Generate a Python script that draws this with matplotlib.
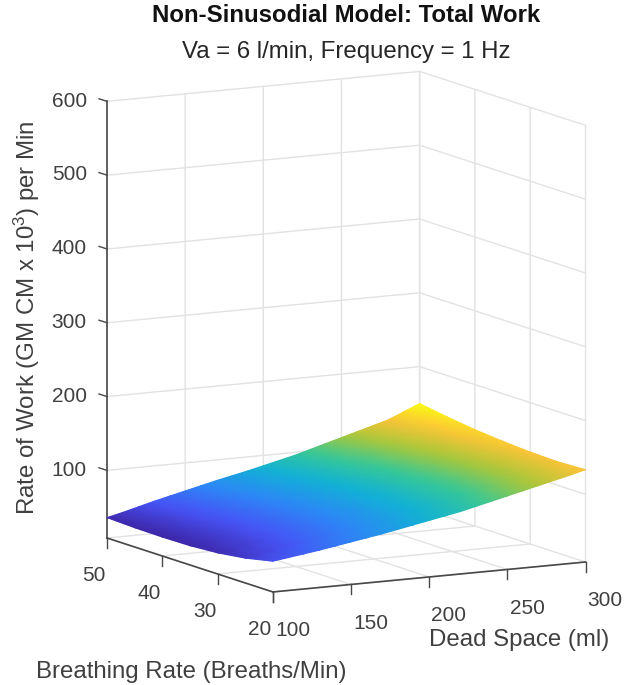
import numpy as np
import matplotlib
matplotlib.use("Agg")
import matplotlib.pyplot as plt
from matplotlib.colors import LinearSegmentedColormap, Normalize
from matplotlib.collections import QuadMesh
from matplotlib.transforms import Affine2D, IdentityTransform
from mpl_toolkits.mplot3d import proj3d

dead_space = [100,110,120,130,140,150,160,170,180,190,200,210,220,230,240,250,260,270,280,290,300]
breathing_rate = [20,25,30,35,40,45,50]
work_br20 = [50,53,56,59,62.5,66,69.5,73,77,81,85,89,93,98,103,108,113,118,123,128,133.4]
work_br25 = [42,45.4,48.9,52.4,56.3,60,63.9,67.7,71.9,76.1,80.3,84.5,88.7,94,99.2,104.4,109.7,114.9,120.2,125.9,132]
work_br30 = [37,40.8,44.8,48.8,52.9,57,61.1,65.3,69.5,73.8,78.2,82.7,87.1,92.5,98,103.5,108.9,114.4,119.8,126.3,133]
work_br35 = [34.5,38.6,43,47.3,51.8,56.1,60.5,64.9,69.3,73.6,78.2,82.8,87.4,93,98.6,104.2,109.8,115.5,121.1,128.2,135.5]
work_br40 = [34,38.4,43.1,47.8,52.3,56.9,61.5,66,70.5,74.9,79.6,84.3,89,94.8,100.4,106.2,112,117.7,123.4,131.2,139]
work_br45 = [34.5,39.2,44.4,49.5,54.2,59.1,63.8,68.6,73.1,77.5,82.3,87.2,92.1,97.9,103.8,109.6,115.5,121.4,127.2,135.6,144]
work_br50 = [36,41,46.5,52,57,62,67,72,76.5,81,86,91,96,102,108,114,120,126,132,141,150]
x_ticks = [100,150,200,250,300]
y_ticks = [20,30,40,50]
z_ticks = [100,200,300,400,500,600]

TXT = '#404040'
plt.rcParams['font.family'] = ['Liberation Sans', 'DejaVu Sans']
plt.rcParams['mathtext.default'] = 'regular'

parula = LinearSegmentedColormap.from_list('parula', [
    (0.2422,0.1504,0.6603),(0.2810,0.3228,0.9579),(0.1786,0.5289,0.9682),
    (0.0689,0.6948,0.8394),(0.2161,0.7843,0.5923),(0.6720,0.7793,0.2227),
    (0.9970,0.7659,0.2199),(0.9769,0.9839,0.0805)])

W, H = 625, 685
fig = plt.figure(figsize=(W/100, H/100), dpi=100, facecolor='white')
ax = fig.add_axes([0.1, 0.1, 0.8, 0.8], projection='3d', proj_type='ortho')
ax.set_box_aspect((356, 348, 444))
ax.view_init(elev=10.17, azim=-118.5)

X, Y = np.meshgrid(dead_space, breathing_rate)
Z = np.array([work_br20, work_br25, work_br30, work_br35, work_br40, work_br45, work_br50])
norm = Normalize(Z.min(), Z.max())
ax.plot_surface(X, Y, Z, cmap=parula, norm=norm, rstride=1, cstride=1,
                linewidth=0, shade=False, antialiased=True)

ax.set_xlim(100, 300, view_margin=0)
ax.set_ylim(20, 50, view_margin=0)
ax.set_zlim(8.4, 600, view_margin=0)
ax.set_xticks(x_ticks); ax.set_yticks(y_ticks); ax.set_zticks(z_ticks)
ax.set_xticklabels([str(v) for v in x_ticks])
ax.set_yticklabels([str(v) for v in y_ticks])
ax.set_zticklabels([str(v) for v in z_ticks])

for axis in (ax.xaxis, ax.yaxis, ax.zaxis):
    axis.set_pane_color((1, 1, 1, 1))
    axis.pane.set_edgecolor((1, 1, 1, 0))
    axis.line.set_color('#484848')
    axis.line.set_linewidth(1.2)
    axis._axinfo['grid'].update(color='#e2e2e2', linewidth=1.0)
    axis._axinfo['tick'].update(inward_factor=0.0, outward_factor=0.28, linewidth={True: 1.0, False: 1.0})
    axis.set_tick_params(labelsize=15, colors=TXT, pad=0, color='#484848')
ax.zaxis._axinfo['tick'].update(outward_factor=0.6)
ax.xaxis.set_tick_params(pad=9)
ax.yaxis.set_tick_params(pad=9)
ax.zaxis.set_ticks_position('upper')
ax.grid(True)

# tick marks point the way MATLAB draws them: x and y straight down, z along the y direction
ax.xaxis._get_tickdir = lambda position: 2
ax.yaxis._get_tickdir = lambda position: 2
ax.zaxis._get_tickdir = lambda position: 1

def shift_tick_labels(axis, dx, dy):
    """Tick labels keep the library's position, moved by a fixed number of pixels."""
    original = axis.get_major_ticks
    def patched(numticks=None):
        ticks = original(numticks)
        for t in ticks:
            t.label1.set_transform(ax.transData + Affine2D().translate(dx, dy))
        return ticks
    axis.get_major_ticks = patched

shift_tick_labels(ax.xaxis, 8, 5)
shift_tick_labels(ax.yaxis, 9, 5)
shift_tick_labels(ax.zaxis, -22, 9)

def to_px(x, y, z):
    xp, yp, _ = proj3d.proj_transform(np.ravel(x), np.ravel(y), np.ravel(z), ax.get_proj())
    return ax.transData.transform(np.column_stack([xp, yp]))

# fit the axes so the box corners land where the reference has them
fig.canvas.draw()
a = to_px(100, 50, 8.4)[0]; b = to_px(300, 20, 8.4)[0]
pos = ax.get_position(original=False)
side = pos.width * W * (585.5 - 107) / (b[0] - a[0])
ax.set_position([0.5 - side/2/W, 0.5 - side/2/H, side/W, side/H])
fig.canvas.draw()
a = to_px(100, 50, 8.4)[0]
dx = 107 - a[0]; dy = (H - 538) - a[1]
p = ax.get_position(original=True)
ax.set_position([p.x0 + dx/W, p.y0 + dy/H, p.width, p.height])
fig.canvas.draw()

# interpolated colouring of the same surface vertices (MATLAB-like smooth shading)
coords = to_px(X, Y, Z).reshape(Z.shape[0], Z.shape[1], 2)
mesh = QuadMesh(coords, shading='gouraud', cmap=parula, norm=norm,
                transform=IdentityTransform(), antialiased=False)
mesh.set_array(Z.ravel())
fig.add_artist(mesh)

def label(px, py, s, **kw):
    fig.text(px/W, 1 - py/H, s, ha='center', va='center', **kw)

label(346, 15, 'Non-Sinusodial Model: Total Work', fontsize=17.3, fontweight='bold', color='#111111')
label(346, 52, 'Va = 6 l/min, Frequency = 1 Hz', fontsize=17.3, color='#262626')
label(519, 640, 'Dead Space (ml)', fontsize=17.3, color=TXT)
label(191, 672, 'Breathing Rate (Breaths/Min)', fontsize=17.3, color=TXT)
label(27, 318, 'Rate of Work (GM CM x 10$^3$) per Min', fontsize=17.3, color=TXT, rotation=90)

fig.savefig('out.png', dpi=100)
